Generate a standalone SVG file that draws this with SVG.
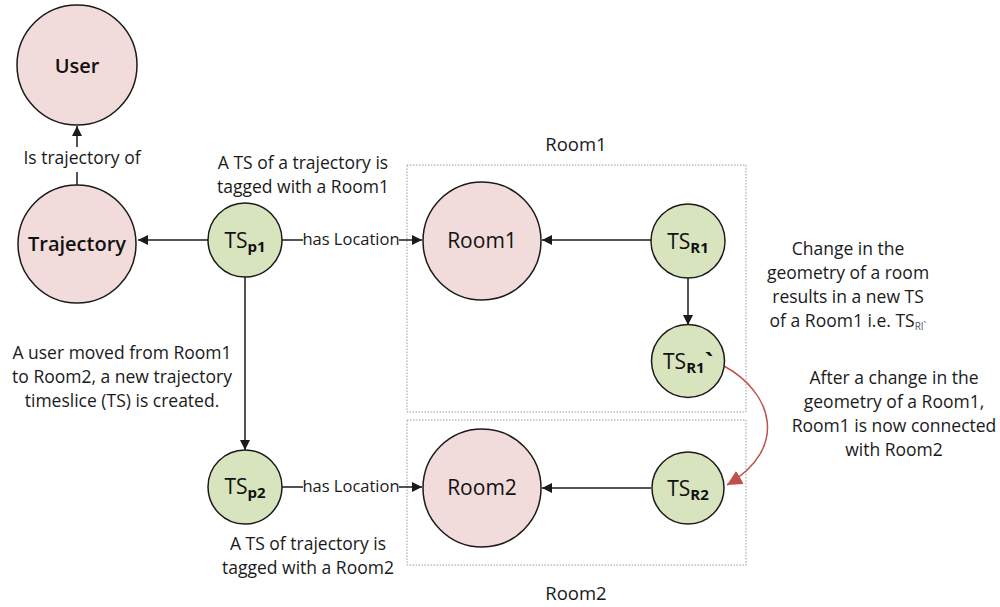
<svg xmlns="http://www.w3.org/2000/svg" width="1000" height="607" viewBox="0 0 1000 607">
<style>
  .pink { fill: #f2dcdb; stroke: #1a1a1a; stroke-width: 1.5; }
  .green { fill: #d7e4bd; stroke: #1a1a1a; stroke-width: 1.5; }
  .lbl { font-family: "Open Sans", "Noto Sans", sans-serif; font-size: 20px; fill: #111; text-anchor: middle; }
  .ts { font-family: "Open Sans", "Noto Sans", sans-serif; font-size: 21px; fill: #111; text-anchor: middle; }
  .sub { font-size: 15px; font-weight: bold; }
  .note { font-family: "Open Sans", "Noto Sans", sans-serif; font-size: 17.5px; fill: #1a1a1a; text-anchor: middle; }
  .link { font-family: "Open Sans", "Noto Sans", sans-serif; font-size: 16.5px; fill: #1a1a1a; text-anchor: middle; }
  .edge { fill: none; stroke: #1a1a1a; stroke-width: 1.5; }
  .red { fill: none; stroke: #c0504d; stroke-width: 1.5; }
  .box { fill: none; stroke: #9a9a9a; stroke-width: 1; stroke-dasharray: 1.5 1.5; }
</style>
<defs>
  <marker id="arr" viewBox="0 0 10 10" refX="10" refY="5" markerWidth="10" markerHeight="10" markerUnits="userSpaceOnUse" orient="auto">
    <path d="M0,0 L10,5 L0,10 z" fill="#1a1a1a"/>
  </marker>
  <marker id="arrRed" viewBox="0 0 10 10" refX="10" refY="5" markerWidth="15" markerHeight="15" markerUnits="userSpaceOnUse" orient="auto">
    <path d="M0,0 L10,5 L0,10 z" fill="#c0504d"/>
  </marker>
</defs>
<rect width="1000" height="607" fill="#ffffff"/>

<g id="room1-box">
  <rect class="box" x="407" y="165" width="339" height="247"/>
  <text class="note" x="576" y="151" style="font-size:18.5px">Room1</text>
</g>
<g id="room2-box">
  <rect class="box" x="407" y="420" width="339" height="145"/>
  <text class="note" x="576" y="600" style="font-size:18.5px">Room2</text>
</g>

<g id="connectors">
  <line class="edge" x1="77" y1="185" x2="77" y2="172"/>
  <line class="edge" x1="77" y1="147" x2="77" y2="126" marker-end="url(#arr)"/>
  <text class="note" x="82" y="164">Is trajectory of</text>
  <line class="edge" x1="208" y1="240" x2="138" y2="240" marker-end="url(#arr)"/>
  <line class="edge" x1="282" y1="240" x2="303" y2="240"/>
  <text class="link" x="351" y="245">has Location</text>
  <line class="edge" x1="399" y1="240" x2="422" y2="240" marker-end="url(#arr)"/>
  <line class="edge" x1="651" y1="240" x2="542" y2="240" marker-end="url(#arr)"/>
  <line class="edge" x1="688" y1="278" x2="688" y2="325" marker-end="url(#arr)"/>
  <line class="edge" x1="245" y1="277" x2="245" y2="450" marker-end="url(#arr)"/>
  <line class="edge" x1="282" y1="487" x2="303" y2="487"/>
  <text class="link" x="351" y="492">has Location</text>
  <line class="edge" x1="399" y1="487" x2="422" y2="487" marker-end="url(#arr)"/>
  <line class="edge" x1="651" y1="488" x2="542" y2="488" marker-end="url(#arr)"/>
  <path class="red" d="M724,366 C772,392 790,448 727,485" marker-end="url(#arrRed)"/>
</g>

<g id="user">
  <circle class="pink" cx="77" cy="65" r="60"/>
  <text class="lbl" x="77" y="73" style="font-weight:600">User</text>
</g>
<g id="trajectory">
  <circle class="pink" cx="77" cy="244" r="59"/>
  <text class="lbl" x="77" y="251" style="font-weight:600">Trajectory</text>
</g>
<g id="ts-p1">
  <circle class="green" cx="245" cy="240" r="37"/>
  <text class="ts" x="245" y="248">TS<tspan class="sub" dy="4">p1</tspan></text>
</g>
<g id="room1">
  <circle class="pink" cx="482" cy="241" r="59"/>
  <text class="lbl" x="482" y="248" style="font-size:21px">Room1</text>
</g>
<g id="ts-r1">
  <circle class="green" cx="688" cy="241" r="37"/>
  <text class="ts" x="688" y="249">TS<tspan class="sub" dy="4">R1</tspan></text>
</g>
<g id="ts-r1-prime">
  <circle class="green" cx="688" cy="361" r="36.5"/>
  <text class="ts" x="688" y="369">TS<tspan class="sub" dy="4">R1</tspan><tspan dy="-3" style="font-weight:bold;font-size:23px">`</tspan></text>
</g>
<g id="ts-p2">
  <circle class="green" cx="245" cy="487" r="37"/>
  <text class="ts" x="245" y="494">TS<tspan class="sub" dy="4">p2</tspan></text>
</g>
<g id="room2">
  <circle class="pink" cx="482" cy="488" r="59"/>
  <text class="lbl" x="482" y="495" style="font-size:21px">Room2</text>
</g>
<g id="ts-r2">
  <circle class="green" cx="688" cy="488" r="36"/>
  <text class="ts" x="688" y="496">TS<tspan class="sub" dy="4">R2</tspan></text>
</g>

<g id="notes">
  <text class="note" x="303" y="169">A TS of a trajectory is</text>
  <text class="note" x="303" y="193">tagged with a Room1</text>
  <text class="note" x="122" y="359">A user moved from Room1</text>
  <text class="note" x="122" y="383">to Room2, a new trajectory</text>
  <text class="note" x="122" y="407">timeslice (TS) is created.</text>
  <text class="note" x="308" y="550">A TS of trajectory is</text>
  <text class="note" x="308" y="574">tagged with a Room2</text>
  <text class="note" x="848" y="255">Change in the</text>
  <text class="note" x="848" y="279">geometry of a room</text>
  <text class="note" x="848" y="303">results in a new TS</text>
  <text class="note" x="848" y="327">of a Room1 i.e. TS<tspan dy="3" style="font-size:10px;fill:#555">RI`</tspan></text>
  <text class="note" x="894" y="384">After a change in the</text>
  <text class="note" x="894" y="408">geometry of a Room1,</text>
  <text class="note" x="894" y="432">Room1 is now connected</text>
  <text class="note" x="894" y="456">with Room2</text>
</g>
</svg>
